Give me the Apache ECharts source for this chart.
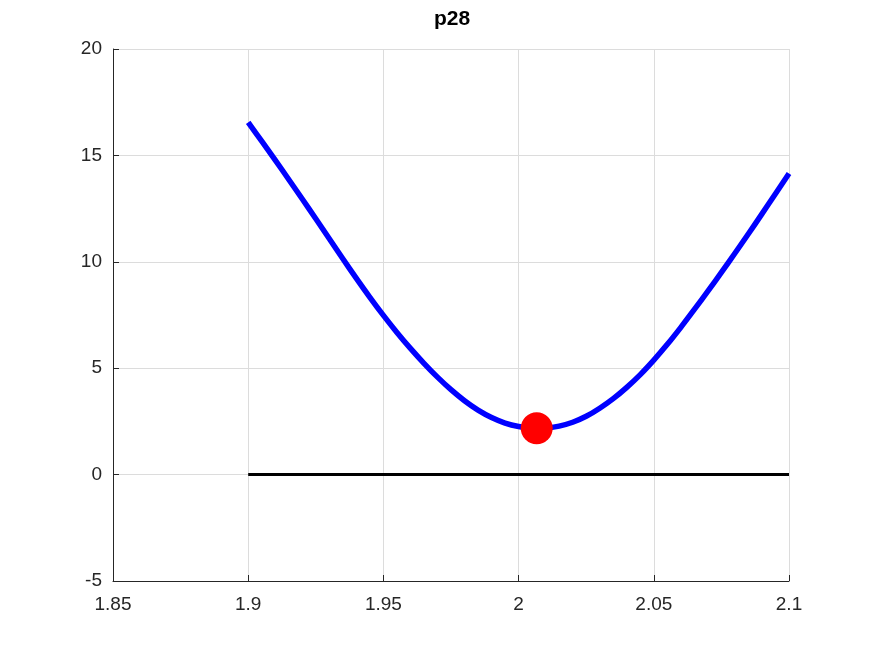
<!DOCTYPE html>
<html>
<head>
<meta charset="utf-8">
<script src="https://cdn.jsdelivr.net/npm/echarts@6/dist/echarts.min.js"></script>
<style>html,body{margin:0;padding:0;background:#fff}#c{width:872px;height:654px}</style>
</head>
<body>
<div id="c"></div>
<script>
const curveX = [1.900,1.905,1.910,1.915,1.920,1.925,1.930,1.935,1.940,1.945,1.950,1.955,1.960,1.965,1.970,1.975,1.980,1.985,1.990,1.995,2.000,2.005,2.010,2.015,2.020,2.025,2.030,2.035,2.040,2.045,2.050,2.055,2.060,2.065,2.070,2.075,2.080,2.085,2.090,2.095,2.100];
const curveY = [16.55,15.67,14.78,13.87,12.95,12.02,11.08,10.14,9.22,8.33,7.48,6.68,5.93,5.23,4.58,3.99,3.47,3.03,2.68,2.42,2.26,2.18,2.19,2.28,2.46,2.74,3.12,3.57,4.10,4.70,5.38,6.12,6.92,7.76,8.62,9.50,10.40,11.32,12.25,13.20,14.15];
const zeroX = [1.9, 2.1];
const zeroY = [0, 0];
const minPoint = [2.0067, 2.18];
const xTicks = [1.85, 1.9, 1.95, 2, 2.05, 2.1];
const yTicks = [-5, 0, 5, 10, 15, 20];

const chart = echarts.init(document.getElementById('c'), null, {renderer: 'canvas'});
const font = '"Liberation Sans", Arial, Helvetica, sans-serif';
chart.setOption({
  animation: false,
  backgroundColor: '#fff',
  title: {
    text: 'p28', left: 429, top: 4,
    textStyle: {fontFamily: font, fontWeight: 'bold', fontSize: 21, color: '#000'}
  },
  grid: {left: 113, right: 83, top: 49, bottom: 73, containLabel: false},
  xAxis: {
    type: 'value', min: xTicks[0], max: xTicks[xTicks.length-1], interval: 0.05,
    axisLine: {show: true, onZero: false, lineStyle: {color: '#262626', width: 1}},
    axisTick: {show: true, inside: true, length: 6, lineStyle: {color: '#262626'}},
    axisLabel: {fontFamily: font, fontSize: 19, color: '#262626', margin: 14,
      formatter: v => { const t = xTicks.find(a => Math.abs(a - v) < 1e-9); return t === undefined ? '' : String(t); }},
    splitLine: {show: true, lineStyle: {color: '#dcdcdc', width: 1}}
  },
  yAxis: {
    type: 'value', min: yTicks[0], max: yTicks[yTicks.length-1], interval: 5,
    axisLine: {show: true, onZero: false, lineStyle: {color: '#262626', width: 1}},
    axisTick: {show: true, inside: true, length: 6, lineStyle: {color: '#262626'}},
    axisLabel: {fontFamily: font, fontSize: 19, color: '#262626', margin: 11},
    splitLine: {show: true, lineStyle: {color: '#dcdcdc', width: 1}}
  },
  series: [
    {
      type: 'line', data: zeroX.map((x, i) => [x, zeroY[i]]),
      showSymbol: false, lineStyle: {color: '#000', width: 3}, z: 2
    },
    {
      type: 'line', data: curveX.map((x, i) => [x, curveY[i]]),
      smooth: 0.3, showSymbol: false, lineStyle: {color: '#0000ff', width: 5.5, join: 'round'}, z: 3
    },
    {
      type: 'scatter', data: [minPoint], symbol: 'circle', symbolSize: 32,
      itemStyle: {color: '#ff0000', opacity: 1}, z: 4
    }
  ]
});
</script>
</body>
</html>
